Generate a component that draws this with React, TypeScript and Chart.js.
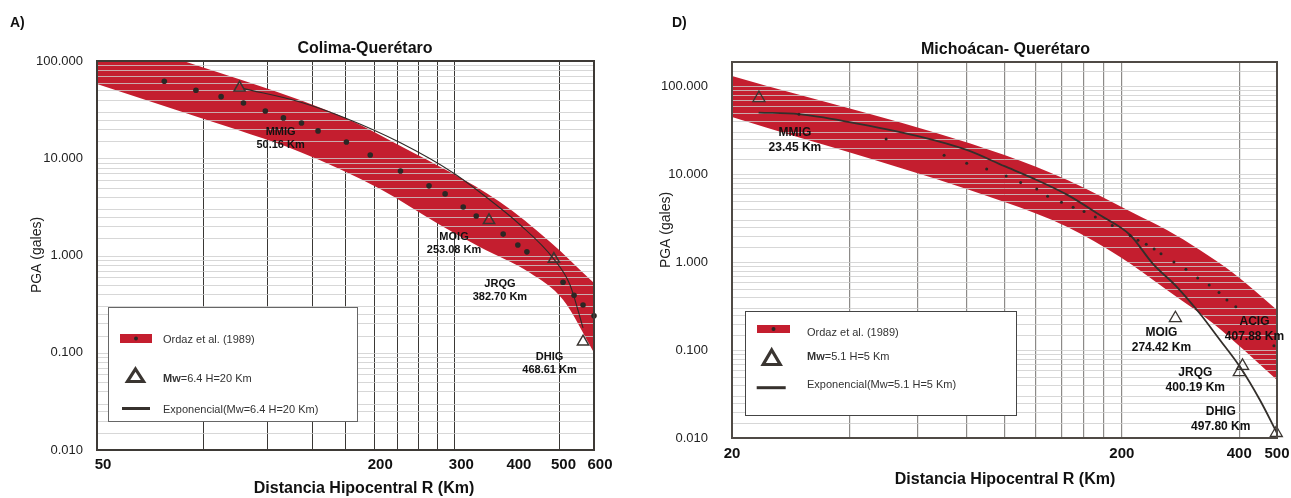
import React, { useEffect, useRef } from "react";
import { Chart, registerables } from "chart.js";

Chart.register(...registerables);

const FONT = 'Arial, "Liberation Sans", Helvetica, sans-serif';
const RED = "#C41E2F";
const DOT = "#2B2724";
const TRI = "#3A3531";

// ================= Panel A) Colima-Querétaro =================
const colimaXTicks = [50, 200, 300, 400, 500, 600];
const colimaXGrid = [85, 117, 147, 173, 200, 225, 250, 274, 298, 506];
const colimaYTicks = [0.01, 0.1, 1, 10, 100];

const colimaBandUpperR = [50, 77, 138, 177, 228, 292, 375, 482, 600];
const colimaBandUpperPGA = [199, 100, 39.7, 24.7, 13.4, 7.2, 3.55, 1.38, 0.52];
const colimaBandLowerR = [50, 84, 138, 206, 278, 339, 436, 514, 600];
const colimaBandLowerPGA = [58, 25.9, 11.6, 4.83, 2.06, 1.22, 0.66, 0.35, 0.1];

const colimaOrdazR = [70, 82, 93, 104, 116, 127, 139, 151, 174, 196, 228, 263, 285, 312, 333, 381, 410, 429, 514, 543, 568, 600];
const colimaOrdazPGA = [62, 50, 43, 37, 30.6, 26, 23, 19.1, 14.7, 10.8, 7.4, 5.2, 4.3, 3.15, 2.55, 1.66, 1.28, 1.09, 0.53, 0.39, 0.31, 0.24];

const colimaStationNames = ["MMIG", "MOIG", "JRQG", "DHIG"];
const colimaStationDist = ["50.16 Km", "253.08 Km", "382.70 Km", "468.61 Km"];
const colimaStationR = [102, 355, 491, 568];
const colimaStationPGA = [53, 2.3, 0.92, 0.13];

const colimaExpR = [104, 138, 173, 228, 297, 352, 415, 489, 532, 568];
const colimaExpPGA = [52, 37.9, 25.9, 14.4, 7.05, 3.9, 2.06, 0.94, 0.5, 0.18];

// ================= Panel D) Michoácan- Querétaro =================
const michXTicks = [20, 200, 400, 500];
const michXGrid = [40, 60, 80, 100, 120, 140, 160, 180, 200, 400];
const michYTicks = [0.01, 0.1, 1, 10, 100];

const michBandUpperR = [20, 100, 145, 214, 261, 317, 386, 500];
const michBandUpperPGA = [130, 16.5, 8.55, 3.6, 2.31, 1.37, 0.75, 0.285];
const michBandLowerR = [20, 100, 145, 198, 261, 343, 500];
const michBandLowerPGA = [44.5, 4.81, 2.5, 1.14, 0.481, 0.2, 0.0456];

const michOrdazR = [29.7, 49.7, 70, 80, 90, 101, 110, 121, 129, 140, 150, 160, 171, 189, 210, 220, 231, 242, 252, 272, 292, 313, 335, 355, 372, 392, 491];
const michOrdazPGA = [48, 25, 16.4, 13.3, 11.4, 9.5, 8.0, 6.76, 5.6, 4.8, 4.2, 3.75, 3.25, 2.6, 2.0, 1.77, 1.59, 1.41, 1.24, 1.0, 0.83, 0.66, 0.55, 0.45, 0.37, 0.31, 0.112];

const michStationNames = ["MMIG", "MOIG", "ACIG", "JRQG", "DHIG"];
const michStationDist = ["23.45 Km", "274.42 Km", "407.88 Km", "400.19 Km", "497.80 Km"];
const michStationR = [23.45, 274.42, 407.88, 400.19, 497.8];
const michStationPGA = [73, 0.23, 0.066, 0.056, 0.0114];

const michExpR = [23.4, 29.7, 39.7, 60, 80, 100, 118, 145, 176, 210, 240, 277, 317, 357, 402, 452, 500];
const michExpPGA = [50, 48, 39.3, 27, 18.8, 12.3, 9.0, 5.8, 3.4, 2.03, 0.96, 0.52, 0.26, 0.13, 0.064, 0.027, 0.0114];

const yGridFactors = [1, 1.5, 2, 2.5, 3, 4, 5, 6, 7, 8, 9];

type Spec = any;

const panels: Spec[] = [
  {
    key: "A",
    canvasLeft: 0,
    width: 645,
    height: 498,
    area: { left: 97, top: 61, right: 594, bottom: 450 },
    letter: "A)",
    letterPos: [10, 23],
    title: "Colima-Querétaro",
    titlePos: [365, 48.5],
    xTitle: "Distancia Hipocentral R (Km)",
    xTitlePos: [364, 489],
    yTitle: "PGA (gales)",
    yTitlePos: [37, 255],
    xMin: 50,
    xMax: 600,
    yMin: 0.01,
    yMax: 100,
    xTicks: colimaXTicks,
    xGrid: colimaXGrid,
    yTicks: colimaYTicks,
    bandUpper: [colimaBandUpperR, colimaBandUpperPGA],
    bandLower: [colimaBandLowerR, colimaBandLowerPGA],
    ordaz: [colimaOrdazR, colimaOrdazPGA],
    stations: [colimaStationR, colimaStationPGA],
    stationNames: colimaStationNames,
    stationDist: colimaStationDist,
    labelOffsets: [[41, 44], [-35, 16.5], [-54, 24.5], [-33.5, 15]],
    labelGap: 13.5,
    labelFont: 11,
    exp: [colimaExpR, colimaExpPGA],
    lineColor: "#2E2A27",
    lineWidth: 1.1,
    dotRadius: 2.8,
    triRadius: 6.5,
    triBorder: 1.5,
    vGridColor: "#3A3835",
    vGridWidth: 1,
    frameColor: "#3E3A36",
    xTickPadding: 6,
    xLabelOffset: 6,
    yTickPadding: 14,
    legend: {
      box: [108, 307, 249, 114],
      rect: [120, 334, 32, 9],
      tri: [135.5, 375, 19, 15],
      line: [122, 150, 408.5],
      textX: 163,
      textYs: [339.5, 378.5, 410],
      texts: ["Ordaz et al. (1989)", "=6.4 H=20 Km", "Exponencial(Mw=6.4 H=20 Km)"],
      border: "#666",
    },
  },
  {
    key: "D",
    canvasLeft: 645,
    width: 646,
    height: 498,
    area: { left: 87, top: 62, right: 632, bottom: 438 },
    letter: "D)",
    letterPos: [27, 23],
    title: "Michoácan- Querétaro",
    titlePos: [360.5, 49.5],
    xTitle: "Distancia Hipocentral R (Km)",
    xTitlePos: [360, 479.5],
    yTitle: "PGA (gales)",
    yTitlePos: [21, 230],
    xMin: 20,
    xMax: 500,
    yMin: 0.01,
    yMax: 188,
    xTicks: michXTicks,
    xGrid: michXGrid,
    yTicks: michYTicks,
    bandUpper: [michBandUpperR, michBandUpperPGA],
    bandLower: [michBandLowerR, michBandLowerPGA],
    ordaz: [michOrdazR, michOrdazPGA],
    stations: [michStationR, michStationPGA],
    stationNames: michStationNames,
    stationDist: michStationDist,
    labelOffsets: [[36, 34.5], [-14, 14], [12, -44.5], [-44, 1], [-55.5, -21]],
    labelGap: 15,
    labelFont: 12,
    exp: [michExpR, michExpPGA],
    lineColor: "#332F2B",
    lineWidth: 1.8,
    dotRadius: 1.5,
    triRadius: 7,
    triBorder: 1.3,
    vGridColor: "#8C8A88",
    vGridWidth: 1.2,
    frameColor: "#4F4A45",
    xTickPadding: 7,
    xLabelOffset: 0,
    yTickPadding: 24,
    legend: {
      box: [100, 311, 271, 104],
      rect: [112, 325, 33, 8],
      tri: [126.7, 357, 20, 17],
      line: [111.7, 140.7, 387.7],
      textX: 162,
      textYs: [332.5, 357, 384.5],
      texts: ["Ordaz et al. (1989)", "=5.1 H=5 Km", "Exponencial(Mw=5.1 H=5 Km)"],
      border: "#444",
    },
  },
];

const toPts = (xs: number[], ys: number[]) => xs.map((x, i) => ({ x, y: ys[i] }));

function gridValues(decades: number[], min: number, max: number) {
  const out: number[] = [];
  decades.forEach((d) => {
    yGridFactors.forEach((f) => {
      const v = d * f;
      if (v >= min * 0.9999 && v <= max * 1.0001) out.push(v);
    });
  });
  return out;
}

// Horizontal gridlines of the y scale, drawn after the Ordaz band fill but
// before the line / points (as in the reference image).
const hGridPlugin = {
  id: "hGridOverBand",
  beforeDatasetsDraw(chart: any) {
    const ys = chart.scales.y;
    const a = chart.chartArea;
    const ctx: CanvasRenderingContext2D = chart.ctx;
    ctx.save();
    ctx.strokeStyle = "rgba(205,205,205,0.8)";
    ctx.lineWidth = 1;
    ctx.beginPath();
    ys.ticks.forEach((t: any) => {
      const y = Math.round(ys.getPixelForValue(t.value)) + 0.5;
      ctx.moveTo(a.left, y);
      ctx.lineTo(a.right, y);
    });
    ctx.stroke();
    ctx.restore();
  },
};

const textPlugin = {
  id: "panelText",
  afterDraw(chart: any, _args: any, opts: any) {
    const s: Spec = opts.spec;
    if (!s) return;
    const ctx: CanvasRenderingContext2D = chart.ctx;
    const a = chart.chartArea;
    ctx.save();

    // plot frame
    ctx.strokeStyle = s.frameColor;
    ctx.lineWidth = 2;
    ctx.strokeRect(a.left, a.top, a.right - a.left, a.bottom - a.top);

    ctx.fillStyle = "#111";
    ctx.textBaseline = "middle";

    // panel letter
    ctx.font = `bold 14px ${FONT}`;
    ctx.textAlign = "left";
    ctx.fillText(s.letter, s.letterPos[0], s.letterPos[1]);

    // title
    ctx.font = `bold 16px ${FONT}`;
    ctx.textAlign = "center";
    ctx.fillText(s.title, s.titlePos[0], s.titlePos[1]);

    // x title
    ctx.font = `bold 16px ${FONT}`;
    ctx.fillText(s.xTitle, s.xTitlePos[0], s.xTitlePos[1]);

    // y title
    ctx.save();
    ctx.translate(s.yTitlePos[0], s.yTitlePos[1]);
    ctx.rotate(-Math.PI / 2);
    ctx.font = `14px ${FONT}`;
    ctx.fillStyle = "#222";
    ctx.fillText(s.yTitle, 0, 0);
    ctx.restore();

    // station labels
    const xs = chart.scales.x;
    const ys = chart.scales.y;
    ctx.font = `bold ${s.labelFont}px ${FONT}`;
    ctx.fillStyle = "#111";
    ctx.textAlign = "center";
    s.stationNames.forEach((name: string, i: number) => {
      const px = xs.getPixelForValue(s.stations[0][i]);
      const py = ys.getPixelForValue(s.stations[1][i]);
      const [dx, dy] = s.labelOffsets[i];
      ctx.fillText(name, px + dx, py + dy);
      ctx.fillText(s.stationDist[i], px + dx, py + dy + s.labelGap);
    });

    // legend
    const L = s.legend;
    ctx.fillStyle = "#fff";
    ctx.fillRect(L.box[0], L.box[1], L.box[2], L.box[3]);
    ctx.strokeStyle = L.border;
    ctx.lineWidth = 1;
    ctx.strokeRect(L.box[0] + 0.5, L.box[1] + 0.5, L.box[2], L.box[3]);

    ctx.fillStyle = RED;
    ctx.fillRect(L.rect[0], L.rect[1], L.rect[2], L.rect[3]);
    ctx.fillStyle = DOT;
    ctx.beginPath();
    ctx.arc(L.rect[0] + L.rect[2] / 2, L.rect[1] + L.rect[3] / 2, 2, 0, Math.PI * 2);
    ctx.fill();

    const [tx, ty, tw, th] = L.tri;
    ctx.strokeStyle = TRI;
    ctx.lineWidth = 3.2;
    ctx.lineJoin = "miter";
    ctx.beginPath();
    ctx.moveTo(tx, ty - th / 2 + 1.5);
    ctx.lineTo(tx + tw / 2 - 1.5, ty + th / 2 - 1);
    ctx.lineTo(tx - tw / 2 + 1.5, ty + th / 2 - 1);
    ctx.closePath();
    ctx.stroke();

    ctx.strokeStyle = "#36312D";
    ctx.lineWidth = 3;
    ctx.beginPath();
    ctx.moveTo(L.line[0], L.line[2]);
    ctx.lineTo(L.line[1], L.line[2]);
    ctx.stroke();

    ctx.textAlign = "left";
    ctx.fillStyle = "#333";
    ctx.font = `11px ${FONT}`;
    ctx.fillText(L.texts[0], L.textX, L.textYs[0]);
    ctx.font = `bold 11px ${FONT}`;
    ctx.fillText("Mw", L.textX, L.textYs[1]);
    const mw = ctx.measureText("Mw").width;
    ctx.font = `11px ${FONT}`;
    ctx.fillText(L.texts[1], L.textX + mw, L.textYs[1]);
    ctx.fillText(L.texts[2], L.textX, L.textYs[2]);

    ctx.restore();
  },
};

function buildConfig(s: Spec): any {
  const area = s.area;
  const yGrid = gridValues(s.yTicks, s.yMin, s.yMax);
  const isLabel = (v: number) => s.yTicks.some((t: number) => Math.abs(t - v) / t < 1e-6);
  return {
    type: "line",
    data: {
      datasets: [
        {
          label: "Ordaz band upper",
          data: toPts(s.bandUpper[0], s.bandUpper[1]),
          borderColor: "rgba(0,0,0,0)",
          borderWidth: 0,
          pointRadius: 0,
          fill: "+1",
          backgroundColor: RED,
          cubicInterpolationMode: "monotone",
          order: 4,
          xAxisID: "x",
          yAxisID: "y",
        },
        {
          label: "Ordaz band lower",
          data: toPts(s.bandLower[0], s.bandLower[1]),
          borderColor: "rgba(0,0,0,0)",
          borderWidth: 0,
          pointRadius: 0,
          fill: false,
          cubicInterpolationMode: "monotone",
          order: 3,
          xAxisID: "x",
          yAxisID: "y",
        },
        {
          label: "Exponencial",
          data: toPts(s.exp[0], s.exp[1]),
          borderColor: s.lineColor,
          borderWidth: s.lineWidth,
          pointRadius: 0,
          fill: false,
          cubicInterpolationMode: "monotone",
          order: 2,
          xAxisID: "x",
          yAxisID: "y",
        },
        {
          label: "Ordaz et al. (1989)",
          data: toPts(s.ordaz[0], s.ordaz[1]),
          showLine: false,
          pointRadius: s.dotRadius,
          pointBackgroundColor: DOT,
          pointBorderWidth: 0,
          pointBorderColor: DOT,
          clip: false,
          order: 1,
          xAxisID: "x",
          yAxisID: "y",
        },
        {
          label: "Estaciones",
          data: toPts(s.stations[0], s.stations[1]),
          showLine: false,
          pointStyle: "triangle",
          pointRadius: s.triRadius,
          pointBorderColor: TRI,
          pointBorderWidth: s.triBorder,
          pointBackgroundColor: "rgba(0,0,0,0)",
          clip: false,
          order: 0,
          xAxisID: "x",
          yAxisID: "y",
        },
      ],
    },
    options: {
      responsive: false,
      animation: false,
      devicePixelRatio: 1,
      events: [],
      layout: { padding: { left: 0, top: area.top, right: s.width - area.right, bottom: 0 } },
      plugins: {
        legend: { display: false },
        title: { display: false },
        tooltip: { enabled: false },
        filler: { drawTime: "beforeDatasetsDraw" },
        panelText: { spec: s },
      },
      scales: {
        x: {
          type: "logarithmic",
          position: "bottom",
          min: s.xMin,
          max: s.xMax,
          bounds: "data",
          afterBuildTicks: (sc: any) => {
            sc.ticks = s.xTicks.map((v: number) => ({ value: v }));
          },
          afterFit: (sc: any) => {
            sc.height = s.height - area.bottom;
            sc.paddingLeft = 0;
            sc.paddingRight = 0;
          },
          grid: { display: false, drawTicks: false },
          border: { display: false },
          ticks: {
            autoSkip: false,
            maxRotation: 0,
            minRotation: 0,
            padding: s.xTickPadding,
            labelOffset: s.xLabelOffset,
            color: "#111",
            font: { family: FONT, size: 15, weight: "bold" },
            callback: (v: any) => String(v),
          },
        },
        xg: {
          type: "logarithmic",
          position: "bottom",
          min: s.xMin,
          max: s.xMax,
          bounds: "data",
          afterBuildTicks: (sc: any) => {
            sc.ticks = s.xGrid.map((v: number) => ({ value: v }));
          },
          afterFit: (sc: any) => {
            sc.height = 0;
            sc.paddingLeft = 0;
            sc.paddingRight = 0;
          },
          grid: { color: s.vGridColor, lineWidth: s.vGridWidth, drawTicks: false },
          border: { display: false },
          ticks: { display: false },
        },
        y: {
          type: "logarithmic",
          position: "left",
          min: s.yMin,
          max: s.yMax,
          bounds: "data",
          afterBuildTicks: (sc: any) => {
            sc.ticks = yGrid.map((v: number) => ({ value: v }));
          },
          afterFit: (sc: any) => {
            sc.width = area.left;
            sc.paddingTop = 0;
            sc.paddingBottom = 0;
          },
          grid: { display: false, drawTicks: false },
          border: { display: false },
          ticks: {
            autoSkip: false,
            padding: s.yTickPadding,
            color: "#222",
            font: { family: FONT, size: 13 },
            callback: (v: any) => (isLabel(Number(v)) ? Number(v).toFixed(3) : ""),
          },
        },
      },
    },
    plugins: [hGridPlugin, textPlugin],
  };
}

function PanelChart({ spec }: { spec: Spec }) {
  const ref = useRef<HTMLCanvasElement>(null);
  useEffect(() => {
    if (!ref.current) return;
    const chart = new Chart(ref.current, buildConfig(spec));
    return () => chart.destroy();
  }, [spec]);
  return (
    <canvas
      ref={ref}
      width={spec.width}
      height={spec.height}
      style={{ position: "absolute", left: spec.canvasLeft, top: 0, width: spec.width, height: spec.height }}
    />
  );
}

export default function App() {
  return (
    <div style={{ position: "absolute", left: 0, top: 0, width: 1291, height: 498, background: "#fff", overflow: "hidden" }}>
      {panels.map((p) => (
        <PanelChart key={p.key} spec={p} />
      ))}
    </div>
  );
}
